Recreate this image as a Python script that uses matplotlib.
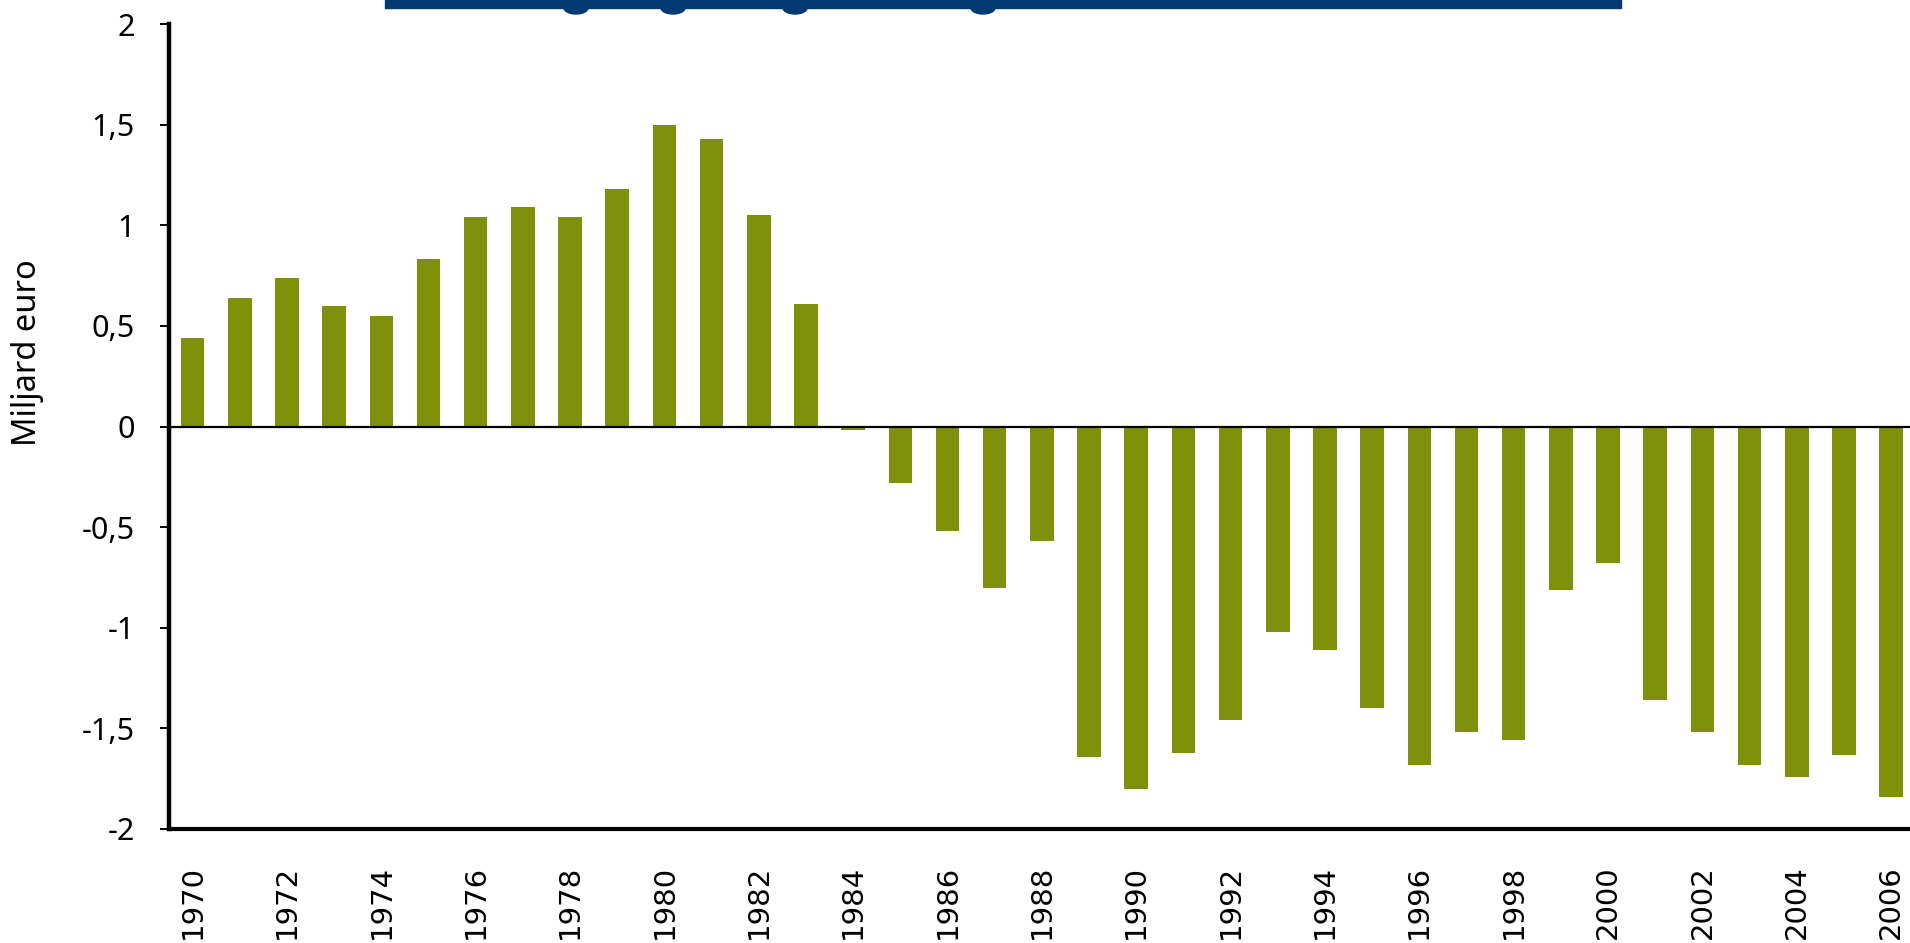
import numpy as np
import matplotlib.pyplot as plt
from matplotlib.patches import Rectangle, Ellipse

# Data (miljard euro per year)
years = list(range(1970, 2007))
values = [0.44, 0.64, 0.74, 0.60, 0.55, 0.83, 1.04, 1.09, 1.04, 1.18,
          1.50, 1.43, 1.05, 0.61, -0.015, -0.28, -0.52, -0.80, -0.57, -1.64,
          -1.80, -1.62, -1.46, -1.02, -1.11, -1.40, -1.68, -1.52, -1.56, -0.81,
          -0.68, -1.36, -1.52, -1.68, -1.74, -1.63, -1.84]
ytick_vals = [-2, -1.5, -1, -0.5, 0, 0.5, 1, 1.5, 2]
ytick_labels = ['-2', '-1,5', '-1', '-0,5', '0', '0,5', '1', '1,5', '2']

bar_color = '#7f910a'
navy = '#003a70'

W, H = 1910, 943
fig = plt.figure(figsize=(W / 100, H / 100), dpi=100)
ax = fig.add_axes([169 / W, (H - 829) / H, (W - 169) / W, (829 - 24) / H])

x = np.arange(len(years))
ax.bar(x, values, width=0.5, color=bar_color, zorder=2)
ax.axhline(0, color='black', lw=1.6, zorder=3)

ax.set_xlim(-0.5, 36.4)
ax.set_ylim(-2, 2)

ax.set_yticks(ytick_vals)
ax.set_yticklabels(ytick_labels, fontsize=22, family='Noto Sans')
ax.set_xticks(x[::2])
ax.set_xticklabels([str(y) for y in years[::2]], rotation=90,
                   fontsize=21, family='DejaVu Sans')

ax.tick_params(axis='y', length=6.5, width=1.4, pad=18)
ax.tick_params(axis='x', length=0, pad=26)

for s in ['top', 'right']:
    ax.spines[s].set_visible(False)
ax.spines['left'].set_linewidth(3.2)
ax.spines['bottom'].set_linewidth(3.0)

ax.set_ylabel('Miljard euro', fontsize=23.5, family='Noto Sans')
ax.yaxis.set_label_coords((44 - 169) / (W - 169), (829 - 353) / (829 - 24))

# top of a cropped title banner
fig.patches.append(Rectangle((385 / W, 1 - 8 / H), (1621 - 385) / W, 8 / H,
                             transform=fig.transFigure, color=navy))
for cx in [576, 673, 795, 983]:
    fig.patches.append(Ellipse((cx / W, 1 - 8 / H), 24 / W, 12 / H,
                               transform=fig.transFigure, color=navy))

fig.savefig('out.png', dpi=100)
